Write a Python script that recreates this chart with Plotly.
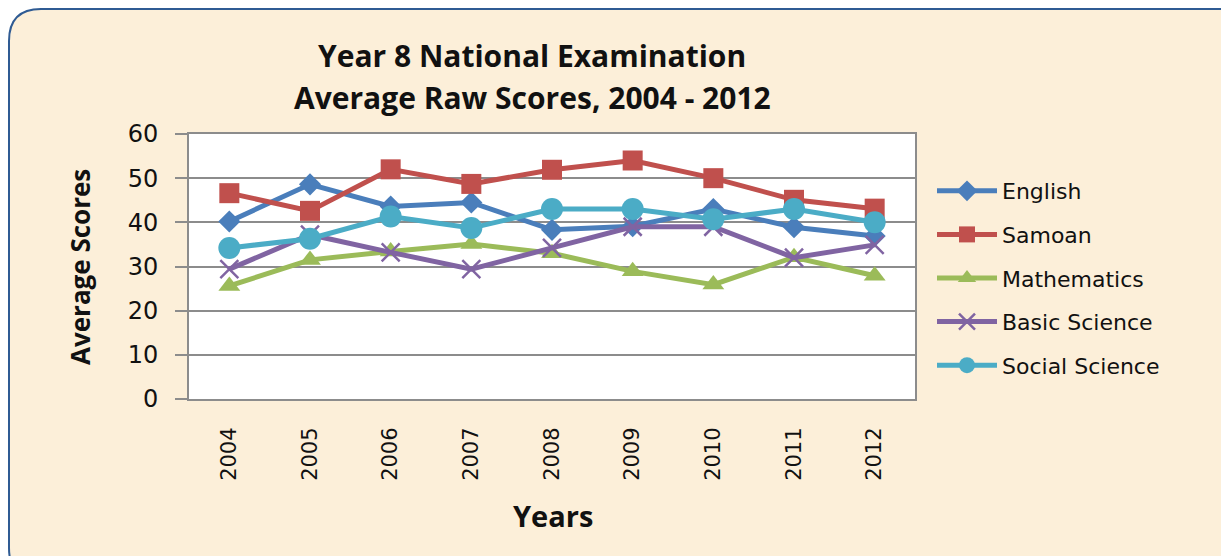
import plotly.graph_objects as go

years = ["2004", "2005", "2006", "2007", "2008", "2009", "2010", "2011", "2012"]
english = [40.2, 48.6, 43.6, 44.5, 38.3, 39.1, 43.0, 38.9, 36.9]
samoan = [46.6, 42.6, 52.0, 48.7, 51.9, 54.0, 50.0, 45.1, 43.1]
mathematics = [25.6, 31.5, 33.4, 35.1, 33.0, 28.9, 25.9, 32.1, 27.9]
basic_science = [29.4, 37.2, 33.2, 29.4, 34.2, 39.0, 39.0, 32.0, 34.9]
social_science = [34.2, 36.3, 41.3, 38.7, 43.0, 43.0, 40.7, 43.0, 40.0]

series = [
    ("English", english, "#4A7EBB", "diamond", 17),
    ("Samoan", samoan, "#C0504D", "square", 20),
    ("Mathematics", mathematics, "#9BBB59", "triangle-up", 19),
    ("Basic Science", basic_science, "#8064A2", "x-thin-open", 18),
    ("Social Science", social_science, "#4BACC6", "circle", 22),
]

fig = go.Figure()
for name, vals, col, sym, sz in series:
    marker = dict(symbol=sym, size=sz, color=col)
    if sym == "x-thin-open":
        marker["line"] = dict(color=col, width=2.5)
    fig.add_trace(go.Scatter(
        x=years, y=vals, name=name, mode="lines+markers",
        line=dict(color=col, width=5), marker=marker, legendgroup=name,
    ))

# page offset (body margin) and plot area in page pixels
OFF = 8
FW, FH = 1229 - OFF, 556 - OFF
L, R, T, B = 189, 915, 134, 399
W, H = R - L, B - T
def px(x):
    return (x - L) / W
def py(y):
    return (B - y) / H

x0, y0, x1, y1, rad = 9, 9, 1250, 580, 32
path = (f"M{px(x0+rad)},{py(y0)} L{px(x1-rad)},{py(y0)} Q{px(x1)},{py(y0)} {px(x1)},{py(y0+rad)} "
        f"L{px(x1)},{py(y1-rad)} Q{px(x1)},{py(y1)} {px(x1-rad)},{py(y1)} "
        f"L{px(x0+rad)},{py(y1)} Q{px(x0)},{py(y1)} {px(x0)},{py(y1-rad)} "
        f"L{px(x0)},{py(y0+rad)} Q{px(x0)},{py(y0)} {px(x0+rad)},{py(y0)} Z")

def ann(text, x, y, size, angle=0):
    return dict(text=text, x=px(x), y=py(y), xref="paper", yref="paper",
                xanchor="center", yanchor="middle", showarrow=False, textangle=angle,
                font=dict(family="Open Sans", size=size, color="#111111"))

fig.update_layout(
    width=FW, height=FH,
    margin=dict(l=L - OFF, r=FW - (R - OFF), t=T - OFF, b=FH - (B - OFF)),
    paper_bgcolor="white",
    plot_bgcolor="white",
    showlegend=True,
    legend=dict(
        x=px(932), y=py(170), xanchor="left", yanchor="top",
        font=dict(family="DejaVu Sans", size=22, color="#111111"),
        bgcolor="rgba(0,0,0,0)", tracegroupgap=12, itemwidth=60,
    ),
    shapes=[
        dict(type="path", path=path, xref="paper", yref="paper",
             fillcolor="#FCEFD9", line=dict(color="#2F5B93", width=2), layer="below"),
        dict(type="rect", x0=0, x1=1, y0=0, y1=1, xref="paper", yref="paper",
             fillcolor="white", line=dict(width=0), layer="below"),
    ],
    annotations=[
        ann("<b>Year 8 National Examination</b>", 532, 55, 30),
        ann("<b>Average Raw Scores, 2004 - 2012</b>", 532, 97, 30),
        ann("<b>Average Scores</b>", 80, 267, 26, -90),
        ann("<b>Years</b>", 553, 515, 29),
    ],
)

fig.update_xaxes(
    type="category", range=[-0.5, 8.5], showgrid=False, showline=True,
    linecolor="#8C8C8C", linewidth=2,
    mirror=True, ticks="", tickangle=-90, ticklabelstandoff=18,
    tickfont=dict(family="DejaVu Sans", size=21, color="#111111"),
)
fig.update_yaxes(
    range=[0, 60], dtick=10, showgrid=True, gridcolor="#8C8C8C", gridwidth=1.5,
    showline=True, linecolor="#8C8C8C", linewidth=2, mirror=True,
    ticks="outside", ticklen=12, tickcolor="#8C8C8C", tickwidth=1.5,
    ticklabelstandoff=12, zeroline=False,
    tickfont=dict(family="DejaVu Sans", size=24, color="#111111"),
)

fig.write_html("out.html")
